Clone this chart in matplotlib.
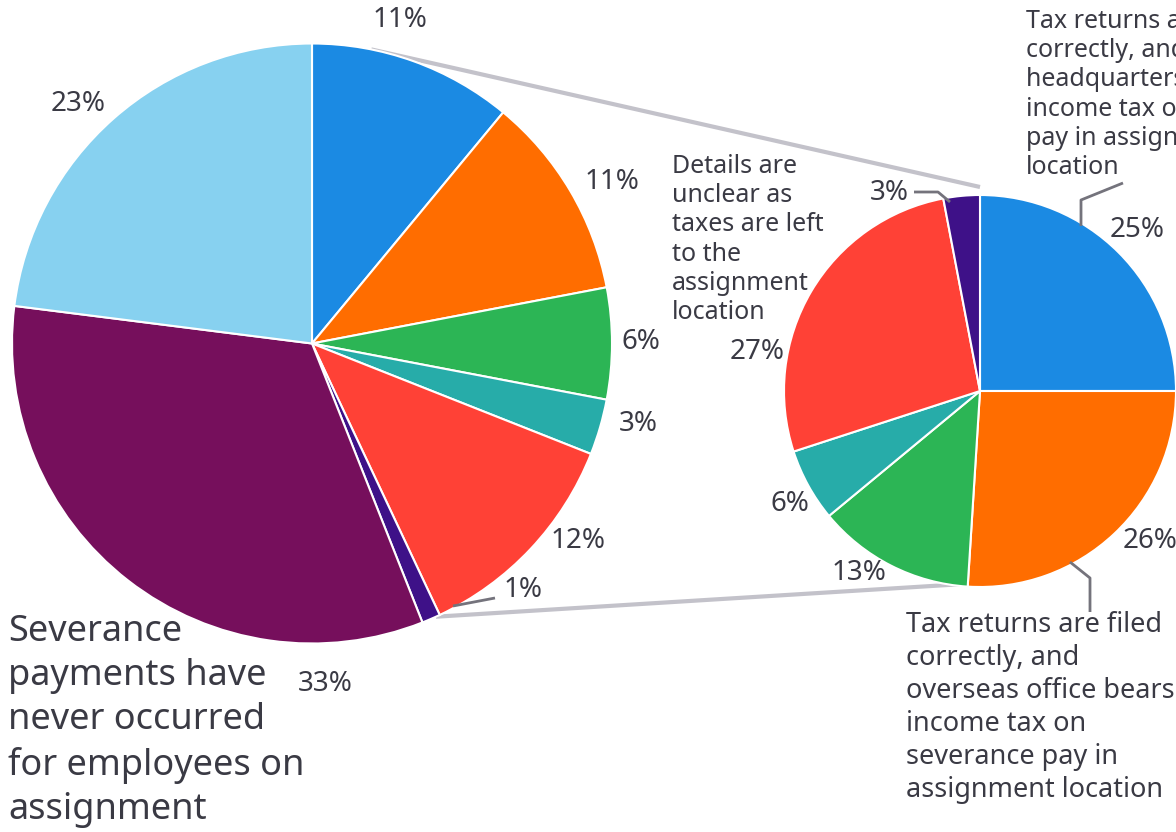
import numpy as np
import matplotlib
matplotlib.use("Agg")
import matplotlib.pyplot as plt

plt.rcParams['font.family'] = ['Noto Sans', 'DejaVu Sans']

# main pie, clockwise from 12 o'clock
main_vals = [11, 11, 6, 3, 12, 1, 33, 23]
main_colors = ['#1b8ae3', '#ff6d00', '#2cb555', '#27aca9', '#ff4136',
               '#3e1188', '#760f5c', '#87d1f0']
# breakdown of the first six slices
sub_vals = [25, 26, 13, 6, 27, 3]
sub_colors = ['#1b8ae3', '#ff6d00', '#2cb555', '#27aca9', '#ff4136', '#3e1188']

main_label_pos = [(400, 20), (612, 182), (641, 342), (638, 424), (578, 541),
                  (523, 590), (325, 684), (78, 104)]
sub_label_pos = [(1137, 230), (1150, 541), (859, 573), (790, 504),
                 (757, 352), (889, 193)]

note_severance = "Severance\npayments have\nnever occurred\nfor employees on\nassignment"
note_unclear = "Details are\nunclear as\ntaxes are left\nto the\nassignment\nlocation"
note_hq = ("Tax returns are filed\ncorrectly, and\nheadquarters bears\n"
           "income tax on severance\npay in assignment\nlocation")
note_overseas = ("Tax returns are filed\ncorrectly, and\noverseas office bears\n"
                 "income tax on\nseverance pay in\nassignment location")

txt = '#3a3a44'
W, H = 1176, 832
fig = plt.figure(figsize=(W / 100, H / 100), dpi=100)
ax = fig.add_axes([0, 0, 1, 1])

c1, r1 = (312, 343.5), 300
c2, r2 = (980, 391), 196

# with y inverted, counterclock in data reads clockwise on screen
wp = dict(edgecolor='white', linewidth=1.5)
ax.pie(main_vals, colors=main_colors, center=c1, radius=r1, startangle=-90,
       counterclock=True, wedgeprops=wp, frame=True)
ax.pie(sub_vals, colors=sub_colors, center=c2, radius=r2, startangle=-90,
       counterclock=True, wedgeprops=wp, frame=True)
ax.set_xlim(0, W)
ax.set_ylim(H, 0)   # pixel-like coordinates, y down
ax.set_aspect('equal')
ax.axis('off')

# connector lines between the two pies
def on_circle(c, r, deg):
    a = np.deg2rad(deg)
    return c[0] + r * np.cos(a), c[1] - r * np.sin(a)

p_top = on_circle(c1, r1, 78.6)
p_bot = on_circle(c1, r1, -65.6)
ax.plot([p_top[0], c2[0]], [p_top[1], c2[1] - r2 - 8], color='#c3c2ca', lw=3,
        solid_capstyle='butt', zorder=0)
ax.plot([p_bot[0], c2[0]], [p_bot[1], c2[1] + r2 - 4], color='#c3c2ca', lw=3,
        solid_capstyle='butt', zorder=0)

for v, (x, y) in zip(main_vals, main_label_pos):
    ax.text(x, y, f"{v}%", fontsize=20, color=txt, ha='center', va='center')
for v, (x, y) in zip(sub_vals, sub_label_pos):
    ax.text(x, y, f"{v}%", fontsize=20, color=txt, ha='center', va='center')

# leader lines
lead = dict(color='#74737c', lw=2, solid_capstyle='butt')
ax.plot([453, 495], [606, 598], **lead)
ax.plot([914, 938, 950], [192, 192, 202], **lead)
ax.plot([1123, 1081, 1081], [183, 200, 226], **lead)
ax.plot([1070, 1090, 1090], [562, 578, 612], **lead)

ax.text(8, 614, note_severance, fontsize=26, color=txt, ha='left', va='top',
        linespacing=1.3)
ax.text(672, 154, note_unclear, fontsize=18, color=txt, ha='left', va='top',
        linespacing=1.22)
ax.text(1026, 9, note_hq, fontsize=18, color=txt, ha='left', va='top',
        linespacing=1.22, clip_on=False)
ax.text(906, 611, note_overseas, fontsize=19.5, color=txt, ha='left', va='top',
        linespacing=1.24)

fig.savefig('out.png', dpi=100, facecolor='white')
